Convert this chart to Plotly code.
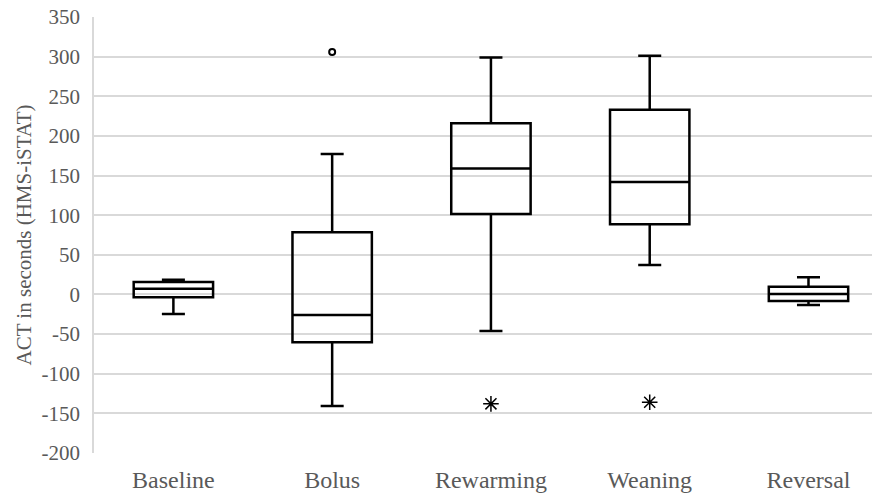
import plotly.graph_objects as go

categories = ["Baseline", "Bolus", "Rewarming", "Weaning", "Reversal"]
q1 = [-3.5, -60.3, 101.5, 88.5, -8.2]
median = [7.3, -25.9, 159, 142, 0.6]
q3 = [15.8, 78.5, 216, 233, 9.8]
lowerfence = [-24.6, -140.7, -46, 37, -13.2]
upperfence = [18.7, 177.2, 299, 301, 21.7]

circle_outlier_cat = ["Bolus"]
circle_outlier_val = [306]
star_outlier_cat = ["Rewarming", "Weaning"]
star_outlier_val = [-138, -136]

yticks = [-200, -150, -100, -50, 0, 50, 100, 150, 200, 250, 300, 350]
ytick_labels = ["-200", "-150", "-100", "-50", "0", "50", "100", "150", "200", "250", "300", "350"]

FONT = "Liberation Serif, Times New Roman, serif"
GRAY = "#595959"

fig = go.Figure()
fig.add_trace(go.Box(
    x=categories, q1=q1, median=median, q3=q3,
    lowerfence=lowerfence, upperfence=upperfence,
    width=0.5, whiskerwidth=0.29,
    line=dict(color="black", width=2.5),
    fillcolor="rgba(255,255,255,0)",
    boxpoints=False, showlegend=False, hoverinfo="y",
))
fig.add_trace(go.Scatter(
    x=circle_outlier_cat, y=circle_outlier_val, mode="markers",
    marker=dict(symbol="circle-open", size=6, color="black", line=dict(width=2, color="black")),
    showlegend=False,
))
fig.add_trace(go.Scatter(
    x=star_outlier_cat, y=star_outlier_val, mode="markers",
    marker=dict(symbol="asterisk-open", size=13, color="black", line=dict(width=1.5, color="black")),
    showlegend=False,
))

fig.update_layout(
    width=872, height=496,
    margin=dict(l=94, r=0, t=17, b=43, autoexpand=False),
    paper_bgcolor="white", plot_bgcolor="white",
    font=dict(family=FONT, color=GRAY),
    showlegend=False,
)
fig.update_xaxes(
    type="category", categoryorder="array", categoryarray=categories,
    range=[-0.5, 4.40], automargin=False,
    showgrid=False, zeroline=False, showline=False, ticks="",
    tickfont=dict(family=FONT, size=24, color=GRAY),
    ticklabelstandoff=10,
)
fig.update_yaxes(
    range=[-200, 350], tickvals=yticks, ticktext=ytick_labels, automargin=False,
    showgrid=True, gridcolor="#d9d9d9", gridwidth=1.5,
    zeroline=False, showline=True, linecolor="#d9d9d9", linewidth=1.5,
    ticks="", ticklabelstandoff=8,
    tickfont=dict(family=FONT, size=21, color=GRAY),
    title=dict(text="ACT in seconds (HMS-iSTAT)", font=dict(family=FONT, size=21, color=GRAY), standoff=4),
)

fig.write_html(
    "out.html",
    config={"displayModeBar": False},
    post_script="document.body.style.margin='0px';document.body.style.overflow='hidden';",
)
